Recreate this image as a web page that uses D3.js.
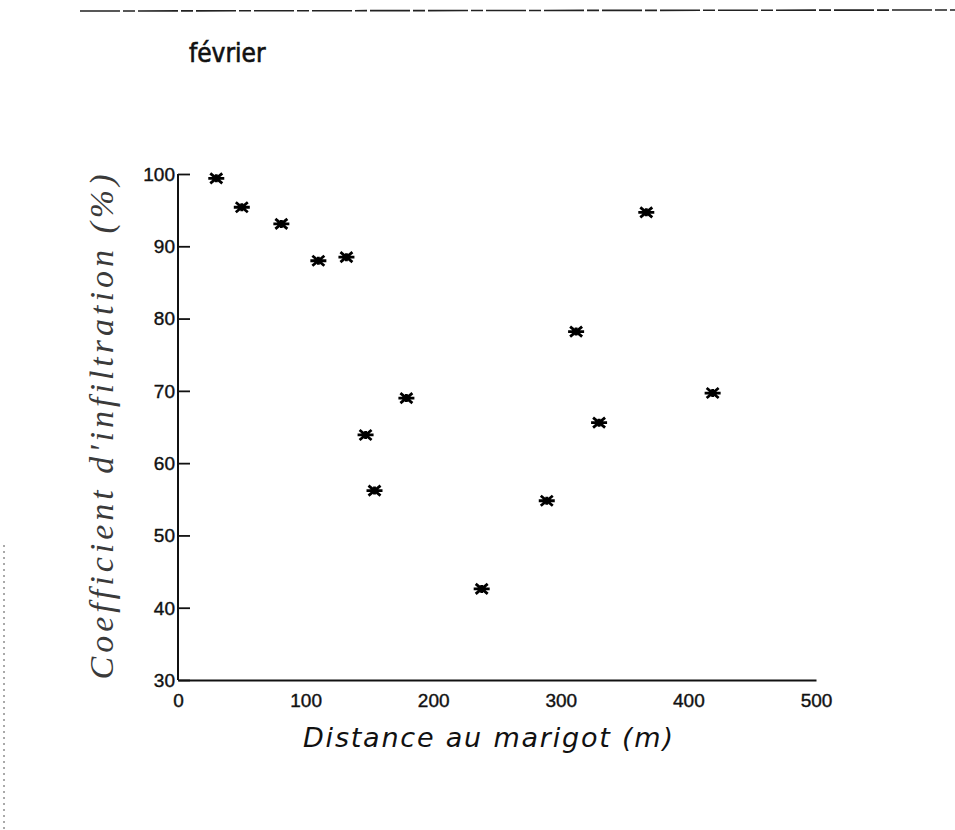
<!DOCTYPE html>
<html>
<head>
<meta charset="utf-8">
<script src="https://cdn.jsdelivr.net/npm/d3@7"></script>
<style>
  html, body { margin: 0; padding: 0; background: #fff; }
  svg { display: block; }
</style>
</head>
<body>
<svg id="chart" width="955" height="830"></svg>
<script>
// ---- data ----
const distance = [30, 50, 81, 110, 132, 147, 154, 179, 238, 289, 312, 330, 367, 419];
const coefficient = [99.4, 95.4, 93.1, 88.0, 88.5, 63.9, 56.2, 69.0, 42.6, 54.8, 78.2, 65.6, 94.7, 69.7];
const xTicks = [0, 100, 200, 300, 400, 500];
const yTicks = [30, 40, 50, 60, 70, 80, 90, 100];
const title = "février";
const xLabel = "Distance au marigot (m)";
const yLabel = "Coefficient d'infiltration (%)";

const svg = d3.select("#chart");
const W = 955, H = 830;
svg.append("rect").attr("width", W).attr("height", H).attr("fill", "#fff");

const x = d3.scaleLinear().domain([0, 500]).range([178, 816]);
const y = d3.scaleLinear().domain([30, 100]).range([680, 174]);

// scan border remnants
svg.append("line").attr("x1", 80).attr("x2", 955).attr("y1", 11).attr("y2", 10)
  .attr("stroke", "#222").attr("stroke-width", 1.6).attr("stroke-dasharray", "40,3,12,3");
svg.append("line").attr("x1", 4).attr("x2", 4).attr("y1", 545).attr("y2", 830)
  .attr("stroke", "#555").attr("stroke-width", 1).attr("stroke-dasharray", "2,4");

// title
svg.append("text").attr("x", 189).attr("y", 62)
  .attr("font-family", "'DejaVu Sans Condensed', 'DejaVu Sans', sans-serif")
  .attr("font-size", 26).attr("fill", "#111")
  .attr("stroke", "#111").attr("stroke-width", 0.6).text(title);

// y axis
const yAxis = d3.axisRight(y).tickValues(yTicks).tickSize(12).tickFormat("");
const gy = svg.append("g").attr("transform", `translate(${x(0)},0)`).call(yAxis);
gy.select(".domain").remove();
gy.selectAll("line").attr("stroke", "#111").attr("stroke-width", 1.8);
svg.append("line").attr("x1", x(0)).attr("x2", x(0)).attr("y1", y(100)).attr("y2", y(30))
  .attr("stroke", "#111").attr("stroke-width", 2);
svg.append("g").selectAll("text").data(yTicks).join("text")
  .attr("x", x(0) - 3).attr("y", d => y(d)).attr("dy", "0.36em")
  .attr("text-anchor", "end")
  .attr("font-family", "'Liberation Sans', Arial, sans-serif")
  .attr("font-size", 19).attr("fill", "#111")
  .attr("stroke", "#111").attr("stroke-width", 0.4).text(d => d);

// x axis
const xAxis = d3.axisBottom(x).tickValues(xTicks).tickSize(0).tickPadding(0);
const gx = svg.append("g").attr("transform", `translate(0,${y(30)})`).call(xAxis);
gx.select(".domain").attr("stroke", "#111").attr("stroke-width", 2);
gx.selectAll("text").attr("font-family", "'Liberation Sans', Arial, sans-serif")
  .attr("font-size", 19).attr("fill", "#111").attr("stroke", "#111").attr("stroke-width", 0.4)
  .attr("dy", null).attr("y", 27);

// axis labels
svg.append("text").attr("x", 488).attr("y", 747).attr("text-anchor", "middle")
  .attr("font-family", "'DejaVu Sans', sans-serif").attr("font-style", "italic")
  .attr("font-size", 27).attr("textLength", 370).attr("lengthAdjust", "spacing")
  .attr("fill", "#111").text(xLabel);
svg.append("text")
  .attr("transform", `translate(113,${(y(30) + y(100)) / 2}) rotate(-90)`)
  .attr("text-anchor", "middle")
  .attr("font-family", "'Liberation Serif', serif").attr("font-style", "italic")
  .attr("font-size", 34).attr("textLength", 505).attr("lengthAdjust", "spacing")
  .attr("fill", "#3a3a3a").text(yLabel);

// asterisk markers
const star = "M-8,0L8,0M-6,-5L6,5M-6,5L6,-5M0,-4L0,4";
svg.append("g").selectAll("path").data(distance.map((d, i) => [d, coefficient[i]])).join("path")
  .attr("transform", d => `translate(${x(d[0])},${y(d[1])})`)
  .attr("d", star).attr("stroke", "#000").attr("stroke-width", 2.8).attr("fill", "none");
</script>
</body>
</html>
